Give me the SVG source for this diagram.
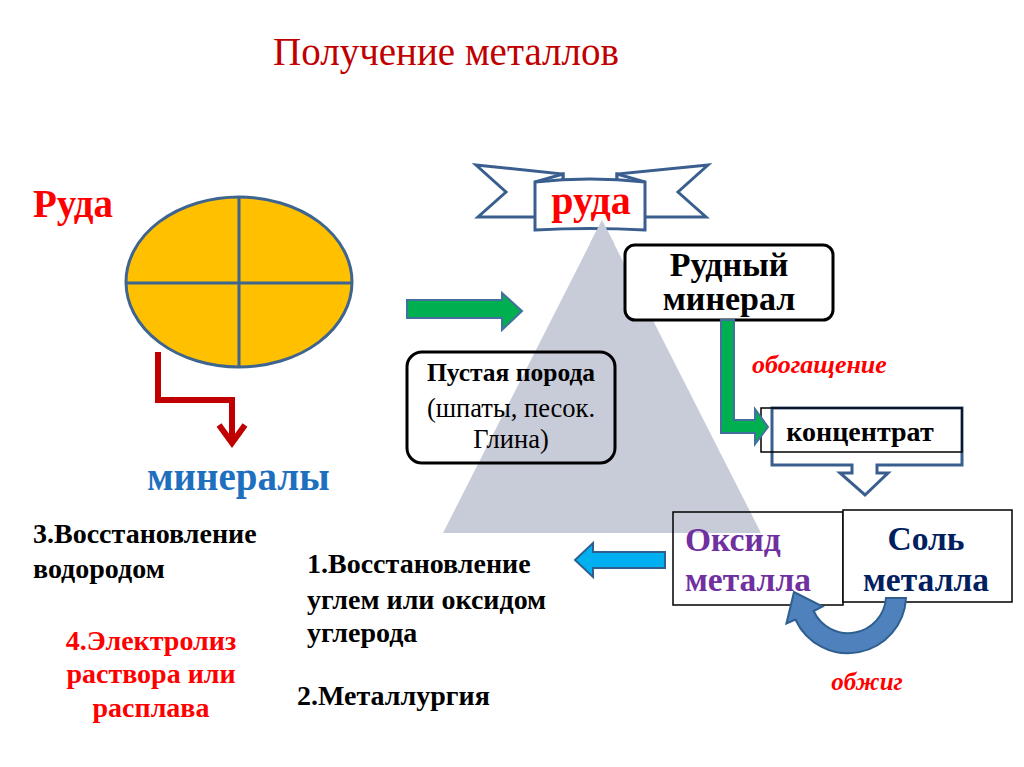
<svg xmlns="http://www.w3.org/2000/svg" width="1024" height="767" viewBox="0 0 1024 767">
<defs>
<style>
text{font-family:"Liberation Serif","Times New Roman",serif}
.b{font-weight:bold}
.bi{font-weight:bold;font-style:italic;fill:#ff0000}
.blk{fill:#000}
.rib{fill:#fff;stroke:#3a5f8f;stroke-width:3;stroke-linejoin:miter}
.garr{fill:#00b050;stroke:#41719c;stroke-width:2}
</style>
</defs>
<rect width="1024" height="767" fill="#fff"/>
<text x="446" y="65" font-size="39" fill="#c00000" text-anchor="middle">Получение металлов</text>

<g id="ore-left">
<text x="33" y="217" font-size="39" class="b" fill="#ff0000">Руда</text>
<ellipse cx="239" cy="282" rx="113" ry="85" fill="#ffc000" stroke="#3e6490" stroke-width="3"/>
<line x1="239" y1="197" x2="239" y2="367" stroke="#3e6490" stroke-width="3"/>
<line x1="126" y1="283" x2="352" y2="283" stroke="#3e6490" stroke-width="3"/>
</g>

<g id="minerals">
<text x="147" y="490" font-size="39" class="b" fill="#1f6fbf">минералы</text>
</g>

<g id="triangle">
<polygon points="602,220 443,533 761,533" fill="#c8ccd8"/>
</g>

<g id="banner">
<polygon class="rib" points="476,165 563,174 563,217 478,217 506,192"/>
<polygon class="rib" points="708,165 617,174 617,217 706,217 678,192"/>
<polygon class="rib" points="535,182 563,174 563,182"/>
<polygon class="rib" points="645,182 617,174 617,182"/>
<path class="rib" d="M535,182 Q590,176 645,182 L645,230 Q590,227 535,230 Z"/>
<polygon points="602,220 590,243 614,243" fill="#c8ccd8"/>
<text x="591" y="214" font-size="40" class="b" fill="#ff0000" text-anchor="middle">руда</text>
</g>

<g id="ore-mineral">
<rect x="625" y="245" width="208" height="75" rx="10" fill="#fff" stroke="#000" stroke-width="3"/>
<text x="729" y="276" font-size="34" class="b blk" text-anchor="middle">Рудный</text>
<text x="729" y="310" font-size="34" class="b blk" text-anchor="middle">минерал</text>
</g>

<g id="gangue">
<rect x="407" y="352" width="208" height="111" rx="15" fill="none" stroke="#000" stroke-width="3"/>
<text x="511" y="381" font-size="25.5" class="b blk" text-anchor="middle">Пустая порода</text>
<text x="511" y="417" font-size="26.5" class="blk" text-anchor="middle">(шпаты, песок.</text>
<text x="511" y="448" font-size="26.5" class="blk" text-anchor="middle">Глина)</text>
</g>

<g id="concentrate">
<path d="M772,408 H962 V465 H877 V473 H888 L865,495 L840,473 H852 V465 H772 Z" fill="#fff" stroke="#3a5f8f" stroke-width="3"/>
<rect x="761" y="408" width="201" height="44" fill="none" stroke="#000" stroke-width="1.5"/>
<text x="860" y="441" font-size="28" class="b blk" text-anchor="middle">концентрат</text>
</g>

<g id="oxide">
<rect x="673" y="512" width="170" height="93" fill="none" stroke="#000" stroke-width="1.5"/>
<text x="685" y="551" font-size="33.5" class="b" fill="#7030a0">Оксид</text>
<text x="685" y="591" font-size="33.5" class="b" fill="#7030a0">металла</text>
</g>

<g id="salt">
<rect x="843" y="510" width="169" height="92" fill="#fff" stroke="#000" stroke-width="1.5"/>
<text x="926" y="550" font-size="33.5" class="b" fill="#002060" text-anchor="middle">Соль</text>
<text x="926" y="591" font-size="33.5" class="b" fill="#002060" text-anchor="middle">металла</text>
</g>

<g id="connectors">
<polyline points="158,352 158,400 232,400 232,441" fill="none" stroke="#c00000" stroke-width="6"/>
<polyline points="219,425 232,443 245,425" fill="none" stroke="#c00000" stroke-width="6" stroke-linejoin="miter"/>
<path class="garr" d="M407,300 H502 V293 L522,311 L502,330 V318 H407 Z"/>
<path class="garr" d="M721,320 H734 V420 H755 V409 L768,427 L755,444 V433 H721 Z"/>
<path d="M575,560 L593,543 V552 H665 V568 H593 V577 Z" fill="#00b0f0" stroke="#2f5f8f" stroke-width="2"/>
<path d="M906,598 A58,58 0 0 1 795.4,619.5 L786.4,623.5 L794,592 L822.6,606.5 L813.6,611 A38,38 0 0 0 886,598 Z" fill="#4f81bd" stroke="#2f5f8f" stroke-width="2"/>
</g>

<text x="752" y="373" font-size="26" class="bi">обогащение</text>
<text x="867" y="690" font-size="25" class="bi" text-anchor="middle">обжиг</text>

<g id="methods">
<text x="33" y="543" font-size="28" class="b blk">3.Восстановление</text>
<text x="33" y="578" font-size="28" class="b blk">водородом</text>
<text x="151" y="650" font-size="28" class="b" fill="#ff0000" text-anchor="middle">4.Электролиз</text>
<text x="151" y="683" font-size="28" class="b" fill="#ff0000" text-anchor="middle">раствора или</text>
<text x="151" y="717" font-size="28" class="b" fill="#ff0000" text-anchor="middle">расплава</text>
<text x="307" y="573" font-size="28" class="b blk">1.Восстановление</text>
<text x="307" y="609" font-size="28" class="b blk">углем или оксидом</text>
<text x="307" y="642" font-size="28" class="b blk">углерода</text>
<text x="297" y="705" font-size="28" class="b blk">2.Металлургия</text>
</g>
</svg>
